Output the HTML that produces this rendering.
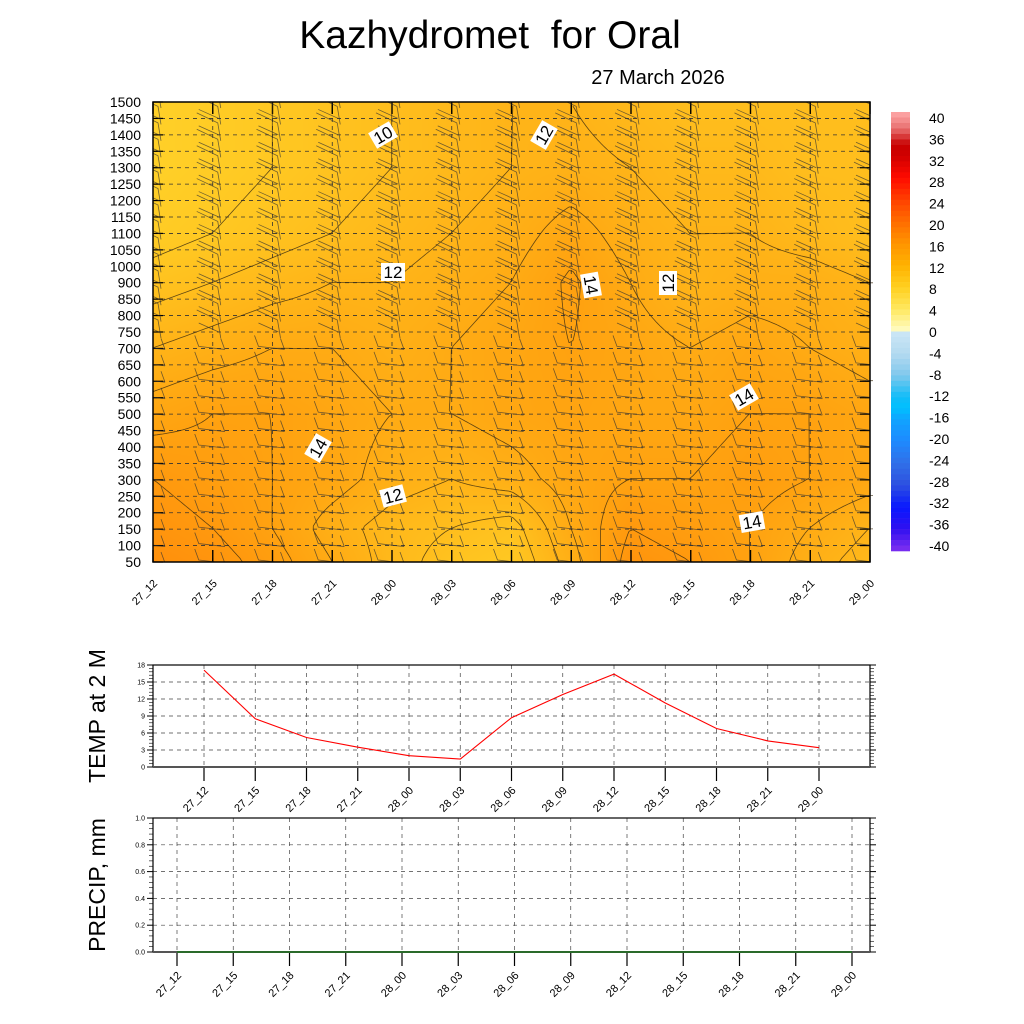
<!DOCTYPE html>
<html><head><meta charset="utf-8"><style>
body{margin:0;background:#fff;width:1024px;height:1024px;overflow:hidden;font-family:"Liberation Sans",sans-serif}
#wrap{position:relative;width:1024px;height:1024px}
canvas{position:absolute;left:153px;top:102px}
svg{position:absolute;left:0;top:0}
</style></head><body><div id="wrap">
<canvas id="cv" width="717" height="460"></canvas>
<svg id="sv" width="1024" height="1024"><defs><clipPath id="mclip"><rect x="153" y="102" width="717" height="460"/></clipPath></defs></svg>
</div>
<script>
const times=["27_12","27_15","27_18","27_21","28_00","28_03","28_06","28_09","28_12","28_15","28_18","28_21","29_00"];
const levelLabels=["50","100","150","200","250","300","350","400","450","500","550","600","650","700","750","800","850","900","1000","1050","1100","1150","1200","1250","1300","1350","1400","1450","1500"];
const fieldRowIdx=[0,2,5,9,13,17,20,24,28];
const fieldT50=[16,15.5,14.5,13,11.5,10.5,10,12.5,15.5,15,14,12.5,11.5];
const fieldT150=[15.5,15,14,12.5,11.5,11,10.5,13,15,14.5,14,13,12];
const fieldT300=[15,14.5,14,13.5,12.5,12,12.5,13.5,14,14,14.5,14,13.5];
const fieldT500=[13.5,14,14,13.5,13,13,13.5,13.8,13.5,13.5,14,14,13.5];
const fieldT700=[12,12.5,13,13,12.5,13,13.5,14,13.5,13,13.5,13,12.5];
const fieldT900=[10.5,11,11.5,12,12,12.5,13,14.2,13,12,12.5,12.5,12];
const fieldT1100=[9.5,10,10.5,11,11.5,12,12.5,13.5,12.5,12,12,11.5,11];
const fieldT1300=[9,9.5,10,10.5,11,11.5,12,12.3,12,11.5,11.5,11,11];
const fieldT1500=[9,9.5,10,10.5,11,11.5,12,12,11.5,11,11,11,11];
const fieldRows=[fieldT50,fieldT150,fieldT300,fieldT500,fieldT700,fieldT900,fieldT1100,fieldT1300,fieldT1500];
const t2m=[17.1,8.5,5.2,3.5,2.0,1.4,8.7,12.8,16.4,11.3,6.8,4.6,3.4];
const precip=[0,0,0,0,0,0,0,0,0,0,0,0,0];
const tempTicks=[0,3,6,9,12,15,18];
const precipTicks=[0,0.2,0.4,0.6,0.8,1.0];
const cbLabels=[40,36,32,28,24,20,16,12,8,4,0,-4,-8,-12,-16,-20,-24,-28,-32,-36,-40];

const NS="http://www.w3.org/2000/svg";
const sv=document.getElementById('sv');
function el(tag,attrs,parent){const e=document.createElementNS(NS,tag);for(const k in attrs)e.setAttribute(k,attrs[k]);(parent||sv).appendChild(e);return e;}
function txt(s,attrs,parent){const e=el('text',attrs,parent);e.textContent=s;return e;}

const MX0=153,MX1=870,MY0=102,MY1=562;
const mx=i=>MX0+(MX1-MX0)*i/(times.length-1);
const my=li=>MY1-(MY1-MY0)*li/(levelLabels.length-1);

function fieldAt(ti,li){
  let r=0;while(r<fieldRowIdx.length-2&&li>fieldRowIdx[r+1])r++;
  const f=(li-fieldRowIdx[r])/(fieldRowIdx[r+1]-fieldRowIdx[r]);
  let c=Math.min(Math.floor(ti),times.length-2);const g=ti-c;
  const a=fieldRows[r][c]*(1-g)+fieldRows[r][c+1]*g;
  const b=fieldRows[r+1][c]*(1-g)+fieldRows[r+1][c+1]*g;
  return a*(1-f)+b*f;
}
const stops=[[6,[255,228,60]],[8,[255,216,46]],[10,[255,200,34]],[12,[255,180,24]],[14,[255,162,16]],[16,[255,144,12]],[18,[255,128,8]]];
function lerpStops(st,v){
  if(v<=st[0][0])return st[0][1];
  for(let i=0;i<st.length-1;i++){if(v<=st[i+1][0]){const f=(v-st[i][0])/(st[i+1][0]-st[i][0]);return st[i][1].map((c,k)=>c+(st[i+1][1][k]-c)*f);}}
  return st[st.length-1][1];
}
const colorOf=v=>lerpStops(stops,v);
const cv=document.getElementById('cv'),ctx=cv.getContext('2d');
const W=cv.width,H=cv.height,img=ctx.createImageData(W,H);
for(let y=0;y<H;y++)for(let x=0;x<W;x++){
  const ti=x/(W-1)*(times.length-1),li=(H-1-y)/(H-1)*(levelLabels.length-1);
  const c=colorOf(fieldAt(ti,li));const p=(y*W+x)*4;
  img.data[p]=c[0];img.data[p+1]=c[1];img.data[p+2]=c[2];img.data[p+3]=255;
}
ctx.putImageData(img,0,0);

const gMain=el('g',{});
levelLabels.forEach((l,i)=>{
  el('line',{x1:MX0,x2:MX1,y1:my(i),y2:my(i),stroke:'#333','stroke-width':0.8,'stroke-dasharray':'4,4'},gMain);
  el('line',{x1:MX0,x2:MX0+10,y1:my(i),y2:my(i),stroke:'#000','stroke-width':1.2},gMain);
  el('line',{x1:MX1-10,x2:MX1,y1:my(i),y2:my(i),stroke:'#000','stroke-width':1.2},gMain);
  const t=txt(l,{x:MX0-12,y:my(i)+5,'font-size':14,'text-anchor':'end',fill:'#000'});
  
});
times.forEach((t,i)=>{
  el('line',{x1:mx(i),x2:mx(i),y1:MY0,y2:MY1,stroke:'#333','stroke-width':0.8,'stroke-dasharray':'4,4'},gMain);
  el('line',{x1:mx(i),x2:mx(i),y1:MY1-12,y2:MY1,stroke:'#000','stroke-width':1.4},gMain);
  el('line',{x1:mx(i),x2:mx(i),y1:MY0,y2:MY0+12,stroke:'#000','stroke-width':1.4},gMain);
  const e=txt(t,{x:0,y:0,'font-size':11,'text-anchor':'end',transform:`translate(${mx(i)+5},${MY1+22}) rotate(-45)`});
  
});

const CS=4,nx=Math.ceil(W/CS),ny=Math.ceil(H/CS);
const vals=[];
for(let j=0;j<=ny;j++){vals.push([]);for(let i=0;i<=nx;i++){const x=Math.min(i*CS,W-1),y=Math.min(j*CS,H-1);vals[j].push(fieldAt(x/(W-1)*12,(H-1-y)/(H-1)*28));}}
const gC=el('g',{});
for(let L=9;L<=16;L++){
  let d='';
  for(let j=0;j<ny;j++)for(let i=0;i<nx;i++){
    const a=vals[j][i],b=vals[j][i+1],c=vals[j+1][i+1],e=vals[j+1][i];
    const x0=MX0+i*CS,y0=MY0+j*CS,pts=[];
    if((a-L)*(b-L)<0)pts.push([x0+CS*(L-a)/(b-a),y0]);
    if((b-L)*(c-L)<0)pts.push([x0+CS,y0+CS*(L-b)/(c-b)]);
    if((e-L)*(c-L)<0)pts.push([x0+CS*(L-e)/(c-e),y0+CS]);
    if((a-L)*(e-L)<0)pts.push([x0,y0+CS*(L-a)/(e-a)]);
    for(let k=0;k+1<pts.length;k+=2)d+=`M${pts[k][0].toFixed(1)},${pts[k][1].toFixed(1)}L${pts[k+1][0].toFixed(1)},${pts[k+1][1].toFixed(1)}`;
  }
  const p=el('path',{d:d,stroke:'#3a2a10','stroke-width':0.8,fill:'none','stroke-opacity':0.8},gC);
  
}

const gB=el('g',{'clip-path':'url(#mclip)'});
times.forEach((t,i)=>levelLabels.forEach((l,k)=>{
  const x=mx(i)+6,y=my(k);
  let d;
  if(k<14){
    d=`M${x+6},${y+1}L${x-20},${y-2}L${x-24},${y-13}M${x+6},${y+1}L${x+2},${y-10}`;
  }else{
    d=`M${x+2},${y+6}L${x-1},${y-12}L${x-22},${y-22}M${x},${y}L${x-20},${y-9}`;
  }
  el('path',{d:d,stroke:'#333','stroke-width':0.8,fill:'none','stroke-opacity':0.7},gB);
}));

el('rect',{x:MX0,y:MY0,width:MX1-MX0,height:MY1-MY0,fill:'none',stroke:'#000','stroke-width':1.5,});

[[383,135,'10',-30],[544,135,'12',-60],[393,272,'12',0],[591,285,'14',80],[668,283,'12',-90],[744,397,'14',-30],[318,448,'14',-60],[393,496,'12',-15],[752,522,'14',-10]].forEach(a=>{
  const g=el('g',{transform:`translate(${a[0]},${a[1]}) rotate(${a[3]})`,});
  el('rect',{x:-12,y:-9,width:24,height:18,fill:'#fff'},g);
  txt(a[2],{x:0,y:6,'font-size':17,'text-anchor':'middle'},g);
});

// colorbar: 80 one-degree boxes from 40 down to -40
const hx=s=>[parseInt(s.slice(1,3),16),parseInt(s.slice(3,5),16),parseInt(s.slice(5,7),16)];
const cbWarm=[[0,"#fffcc8"],[4,"#ffe860"],[8,"#ffd020"],[12,"#ffb200"],[16,"#ff9400"],[20,"#ff6c00"],[24,"#ff4000"],[28,"#ff0a00"],[32,"#d00000"],[34,"#c80000"],[37,"#e87070"],[40,"#ffaaaa"]].map(a=>[a[0],hx(a[1])]);
const cbCold=[[-40,"#8030f0"],[-36,"#3010f0"],[-32,"#0818ff"],[-28,"#2c50e0"],[-24,"#3070e8"],[-20,"#1e8aff"],[-16,"#10a4ff"],[-14,"#00c0ff"],[-12,"#10bcf8"],[-8,"#80c8ec"],[-4,"#b4daf0"],[0,"#cce6f6"]].map(a=>[a[0],hx(a[1])]);
const gCB=el('g',{});
const CBY0=112,CBY1=551,n=80,h=(CBY1-CBY0)/n;
for(let i=0;i<n;i++){
  const v=40-i-0.5;
  const c=(v>0?lerpStops(cbWarm,v):lerpStops(cbCold,v)).map(Math.round);
  const r=el('rect',{x:891,y:CBY0+i*h,width:19,height:h+0.3,fill:`rgb(${c[0]},${c[1]},${c[2]})`},gCB);
  
}
cbLabels.forEach((v,i)=>{
  const t=txt(String(v),{x:929,y:123+i*21.4,'font-size':14},gCB);
  
});

function panel(name,y0,y1,xFirst,xLast,ticks,vals,color,title,titleY,fmt){
  const g=el('g',{});
  const X0=153,X1=870,tmax=ticks[ticks.length-1];
  const px=i=>xFirst+(xLast-xFirst)*i/(times.length-1);
  const py=v=>y1-(y1-y0)*v/tmax;
  ticks.forEach(v=>{
    el('line',{x1:X0,x2:X1,y1:py(v),y2:py(v),stroke:'#444','stroke-width':0.7,'stroke-dasharray':'4,4'},g);
    const t=txt(fmt(v),{x:X0-8,y:py(v)+2.5,'font-size':7,'text-anchor':'end'},g);
    
    el('line',{x1:X0-6,x2:X0,y1:py(v),y2:py(v),stroke:'#000'},g);
    el('line',{x1:X1,x2:X1+6,y1:py(v),y2:py(v),stroke:'#000'},g);
  });
  for(let k=0;k<ticks.length-1;k++)for(let m=1;m<5;m++){const v=ticks[k]+(ticks[k+1]-ticks[k])*m/5;
    el('line',{x1:X0-4,x2:X0,y1:py(v),y2:py(v),stroke:'#000','stroke-width':0.6},g);
    el('line',{x1:X1,x2:X1+4,y1:py(v),y2:py(v),stroke:'#000','stroke-width':0.6},g);}
  times.forEach((t,i)=>{
    el('line',{x1:px(i),x2:px(i),y1:y0,y2:y1,stroke:'#444','stroke-width':0.7,'stroke-dasharray':'4,4'},g);
    el('line',{x1:px(i),x2:px(i),y1:y1,y2:y1+14,stroke:'#000','stroke-width':1.2},g);
    const e=txt(t,{x:0,y:0,'font-size':11,'text-anchor':'end',transform:`translate(${px(i)+5},${y1+24}) rotate(-45)`},g);
    
  });
  el('rect',{x:X0,y:y0,width:X1-X0,height:y1-y0,fill:'none',stroke:'#000','stroke-width':1.2},g);
  el('line',{x1:X0,x2:X1,y1:y1,y2:y1,stroke:'#555','stroke-width':2},g);
  const d=vals.map((v,i)=>(i?'L':'M')+px(i).toFixed(1)+','+py(v).toFixed(1)).join('');
  const p=el('path',{d:d,stroke:color,'stroke-width':1.1,fill:'none'},g);
  
  const tt=txt(title,{x:0,y:0,'font-size':23,'text-anchor':'middle',transform:`translate(105,${titleY}) rotate(-90)`},g);
  
}
panel('temp-2m-panel',665,767,204,819,tempTicks,t2m,'#ff0000','TEMP at 2 M',716,v=>String(v));
panel('precip-panel',818,952,177,852,precipTicks,precip,'#008000','PRECIP, mm',885,v=>v.toFixed(1));

const t1=txt('Kazhydromet\u00a0\u00a0for Oral',{x:490,y:48,'font-size':39,'text-anchor':'middle'});

const t2=txt('27 March 2026',{x:658,y:84,'font-size':20,'text-anchor':'middle'});

</script></body></html>
